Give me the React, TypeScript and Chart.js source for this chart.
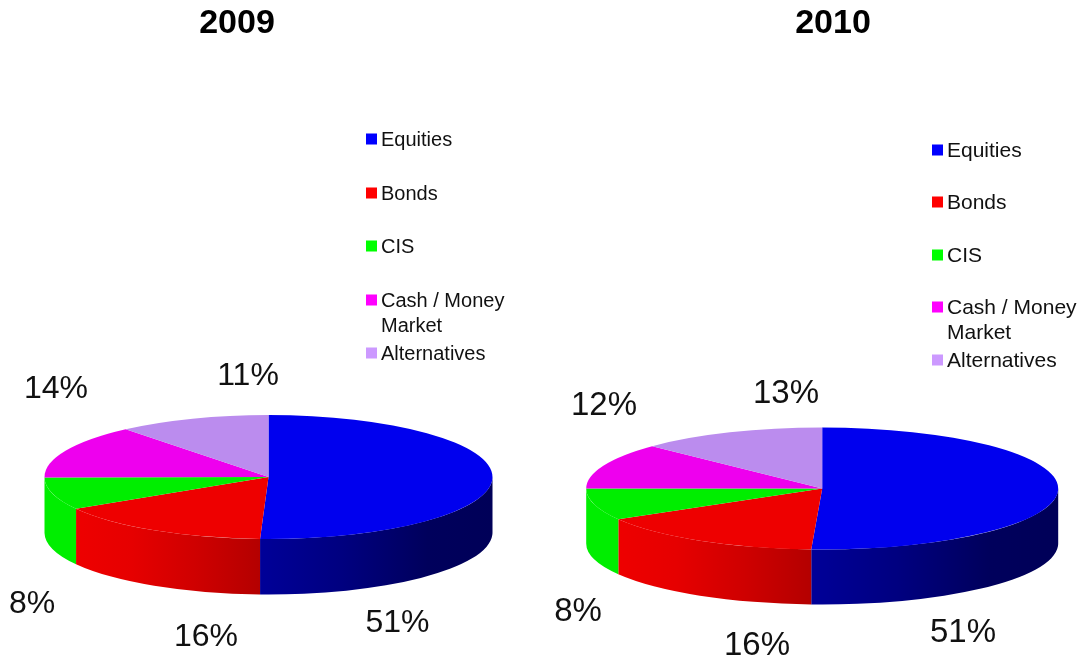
import React, { useEffect, useRef } from "react";
import { Chart, registerables } from "chart.js";

Chart.register(...registerables);

const categories = ["Equities", "Bonds", "CIS", "Cash / Money Market", "Alternatives"];
const values2009 = [50.6, 15.85, 8.45, 14.1, 11];
const values2010 = [50.74, 15.86, 8.4, 12.2, 12.8];
const topColors = ["#0000ee", "#ee0000", "#00ee00", "#ee00ee", "#bb8cee"];
const legendColors = ["#0000ff", "#ff0000", "#00ff00", "#ff00ff", "#cc99ff"];

const FONT = '"Liberation Sans", Arial, sans-serif';

const sideStops: Record<number, [number, string][]> = {
  0: [[0, "#000098"], [0.35, "#000080"], [0.72, "#00005c"], [1, "#000058"]],
  1: [[0, "#ee0000"], [0.3, "#e60000"], [0.65, "#cf0000"], [1, "#b40000"]],
  2: [[0, "#00ee00"], [1, "#00ee00"]],
};

type Panel = {
  title: string;
  values: number[];
  canvasLeft: number;
  canvasWidth: number;
  titlePos: [number, number];
  titleSize: number;
  ellipse: { cx: number; cy: number; rx: number; ry: number; depth: number };
  labelSize: number;
  labelPos: [number, number][];
  legend: { markerX: number; textX: number; size: number; rows: number[]; secondLineY: number };
};

const panels: Panel[] = [
  {
    title: "2009",
    values: values2009,
    canvasLeft: 0,
    canvasWidth: 541,
    titlePos: [237, 24],
    titleSize: 34,
    ellipse: { cx: 268.5, cy: 477, rx: 224, ry: 62, depth: 55.5 },
    labelSize: 32,
    labelPos: [[397.5, 623], [206, 637], [32, 604], [56, 389], [248, 376.5]],
    legend: { markerX: 366, textX: 381, size: 20, rows: [140, 194, 247, 301, 354], secondLineY: 326 },
  },
  {
    title: "2010",
    values: values2010,
    canvasLeft: 541,
    canvasWidth: 542,
    titlePos: [833, 24],
    titleSize: 34,
    ellipse: { cx: 822.2, cy: 488.5, rx: 236, ry: 61, depth: 55 },
    labelSize: 33,
    labelPos: [[963, 633], [757, 646], [578, 612], [604, 406], [786, 394]],
    legend: { markerX: 932, textX: 947, size: 21, rows: [151, 203, 256, 308, 361], secondLineY: 333 },
  },
];

function makePlugin(p: Panel) {
  return {
    id: "pie3d",
    beforeDatasetsDraw(chart: any) {
      const ctx: CanvasRenderingContext2D = chart.ctx;
      const arcs = chart.getDatasetMeta(0).data;
      const e = p.ellipse;
      const cx = e.cx - p.canvasLeft;
      ctx.save();
      arcs.forEach((arc: any, i: number) => {
        const a0 = Math.max(arc.startAngle, 0);
        const a1 = Math.min(arc.endAngle, Math.PI);
        const stops = sideStops[i];
        if (a1 <= a0 || !stops) return;
        const xs = [Math.cos(a0), Math.cos(a1)].map((c) => cx + e.rx * c);
        const g = ctx.createLinearGradient(Math.min(...xs), 0, Math.max(...xs), 0);
        stops.forEach(([o, c]) => g.addColorStop(o, c));
        ctx.fillStyle = g;
        ctx.beginPath();
        ctx.ellipse(cx, e.cy, e.rx, e.ry, 0, a0, a1);
        ctx.ellipse(cx, e.cy + e.depth, e.rx, e.ry, 0, a1, a0, true);
        ctx.closePath();
        ctx.fill();
      });
      ctx.restore();
      ctx.save();
      const first = arcs[0];
      const R = first.outerRadius;
      ctx.translate(cx, e.cy);
      ctx.scale(e.rx / R, e.ry / R);
      ctx.translate(-first.x, -first.y);
    },
    afterDatasetsDraw(chart: any) {
      chart.ctx.restore();
    },
    afterDraw(chart: any) {
      const ctx: CanvasRenderingContext2D = chart.ctx;
      const off = p.canvasLeft;
      const markerRows = p.legend.rows.map((y) => y - 1);
      ctx.save();
      ctx.textBaseline = "middle";
      ctx.fillStyle = "#000000";
      ctx.textAlign = "center";
      ctx.font = `bold ${p.titleSize}px ${FONT}`;
      ctx.fillText(p.title, p.titlePos[0] - off, p.titlePos[1]);
      ctx.fillStyle = "#111111";
      ctx.font = `${p.labelSize}px ${FONT}`;
      p.values.forEach((v, i) => {
        const [x, y] = p.labelPos[i];
        ctx.fillText(`${Math.round(v)}%`, x - off, y);
      });
      ctx.textAlign = "left";
      ctx.font = `${p.legend.size}px ${FONT}`;
      categories.forEach((name, i) => {
        const y = p.legend.rows[i];
        ctx.fillStyle = legendColors[i];
        ctx.fillRect(p.legend.markerX - off, markerRows[i] - 5.5, 11, 11);
        ctx.fillStyle = "#111111";
        if (name.startsWith("Cash")) {
          ctx.fillText("Cash / Money", p.legend.textX - off, y);
          ctx.fillText("Market", p.legend.textX - off, p.legend.secondLineY);
        } else {
          ctx.fillText(name, p.legend.textX - off, y);
        }
      });
      ctx.restore();
    },
  };
}

function PiePanel({ panel }: { panel: Panel }) {
  const ref = useRef<HTMLCanvasElement>(null);
  useEffect(() => {
    const chart = new Chart(ref.current as HTMLCanvasElement, {
      type: "pie",
      data: {
        labels: categories,
        datasets: [{ data: panel.values, backgroundColor: topColors, borderWidth: 0 }],
      },
      options: {
        responsive: false,
        animation: false,
        layout: { padding: 0 },
        plugins: { legend: { display: false }, title: { display: false }, tooltip: { enabled: false } },
      },
      plugins: [makePlugin(panel)],
    } as any);
    return () => chart.destroy();
  }, [panel]);
  return (
    <canvas
      ref={ref}
      width={panel.canvasWidth}
      height={657}
      style={{ position: "absolute", left: panel.canvasLeft, top: 0, width: panel.canvasWidth, height: 657, display: "block" }}
    />
  );
}

export default function App() {
  return (
    <div style={{ position: "fixed", left: 0, top: 0, width: 1083, height: 657, background: "#fff", overflow: "hidden" }}>
      {panels.map((p) => (
        <PiePanel key={p.title} panel={p} />
      ))}
    </div>
  );
}
